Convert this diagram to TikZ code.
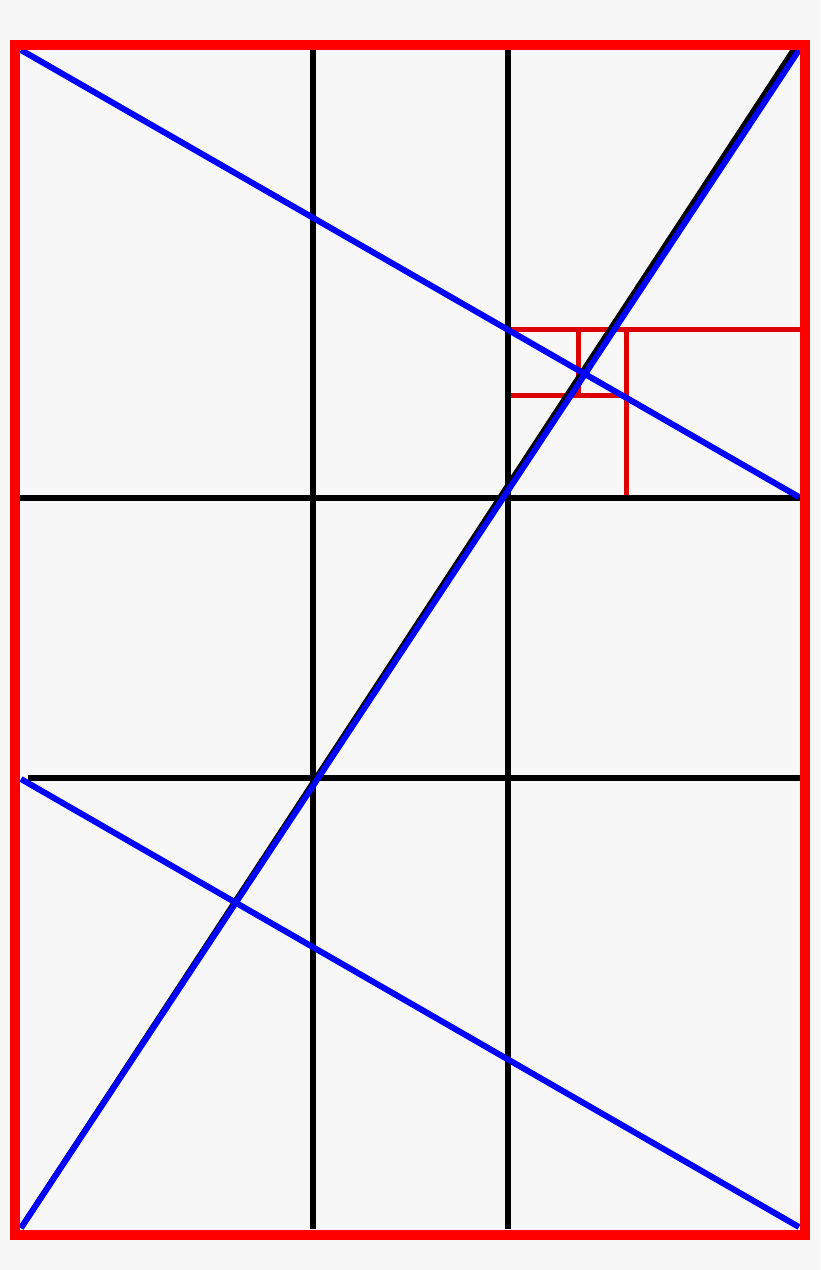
\documentclass[tikz,border=0pt]{standalone}
\definecolor{bg}{HTML}{F7F7F7}
\definecolor{inred}{HTML}{DD0000}
\begin{document}
\begin{tikzpicture}[x=1pt,y=-1pt,
  grid/.style={draw=black,line width=5.5pt},
  diag/.style={draw=blue,line width=6pt},
  inner/.style={draw=inred,line width=5pt},
  frame/.style={draw=red,line width=10pt}]
\fill[bg] (0,0) rectangle (820,1270);
\useasboundingbox (0,0) rectangle (820,1270);
% inner red rectangles
\draw[inner] (508,329.5) -- (800,329.5);
\draw[inner] (626,329.5) -- (626,498);
\draw[inner] (508,395.5) -- (626,395.5);
\draw[inner] (578.5,329.5) -- (578.5,395.5);
% black grid
\draw[grid] (313,49) -- (313,1229);
\draw[grid] (508,49) -- (508,1229);
\draw[grid] (20,498) -- (800,498);
\draw[grid] (28,778) -- (800,778);
\draw[grid] (21,1228) -- (794,49);
% blue diagonals
\draw[diag] (21,50) -- (799,497);
\draw[diag] (21,779) -- (799,1227);
\draw[diag] (21,1228) -- (799,50);
% frame
\draw[frame] (15,44.5) rectangle (805,1234.5);
\end{tikzpicture}
\end{document}
